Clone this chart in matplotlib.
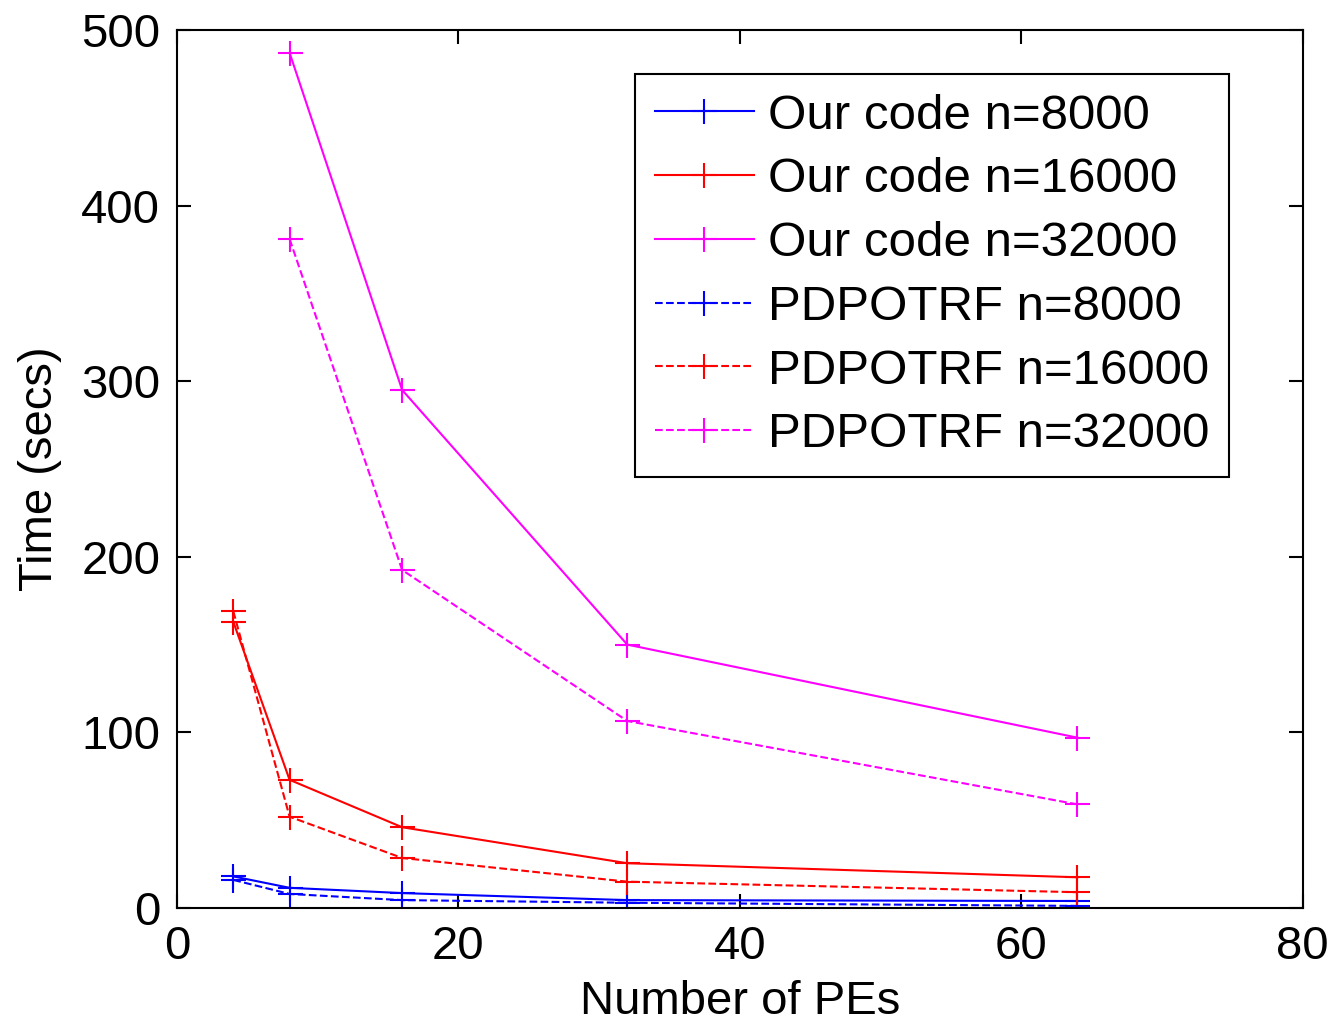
import matplotlib
matplotlib.use("Agg")
import matplotlib.pyplot as plt

plt.rcParams['font.family'] = ['Liberation Sans', 'DejaVu Sans']

pes = [4, 8, 16, 32, 64]
pes_32k = [8, 16, 32, 64]

ours_8000 = [18, 11.5, 8.5, 4.5, 4]
ours_16000 = [163, 73, 46, 25.5, 17.5]
ours_32000 = [487, 295, 150, 97]
pdpotrf_8000 = [16, 8, 4.5, 3, 1.2]
pdpotrf_16000 = [169, 52, 28.5, 15, 9]
pdpotrf_32000 = [381, 192.5, 106.5, 59]

fig = plt.figure(figsize=(13.36, 10.23), dpi=100)
ax = fig.add_axes([0.1325, 0.1124, 0.8425, 0.8583])

mk = dict(marker='+', markersize=18, markeredgewidth=1.5, linewidth=1.5)
ax.plot(pes, ours_8000, '-', color='blue', label='Our code n=8000', **mk)
ax.plot(pes, ours_16000, '-', color='red', label='Our code n=16000', **mk)
ax.plot(pes_32k, ours_32000, '-', color='magenta', label='Our code n=32000', **mk)
ax.plot(pes, pdpotrf_8000, '--', color='blue', label='PDPOTRF n=8000', **mk)
ax.plot(pes, pdpotrf_16000, '--', color='red', label='PDPOTRF n=16000', **mk)
ax.plot(pes_32k, pdpotrf_32000, '--', color='magenta', label='PDPOTRF n=32000', **mk)

ax.set_xlim(0, 80)
ax.set_ylim(0, 500)
ax.set_xticks([0, 20, 40, 60, 80])
ax.set_yticks([0, 100, 200, 300, 400, 500])
ax.tick_params(direction='in', length=10, width=1.5, labelsize=34, top=True, right=True, pad=12)
for s in ax.spines.values():
    s.set_linewidth(1.5)

ax.set_xlabel('Number of PEs', fontsize=34, labelpad=8)
ax.set_ylabel('Time (secs)', fontsize=34, labelpad=14)

leg = ax.legend(loc='upper right', bbox_to_anchor=(0.935, 0.95), fontsize=35.5, fancybox=False,
                framealpha=1, edgecolor='black', handlelength=2.0, borderpad=0.4,
                labelspacing=0.38, handletextpad=0.3, borderaxespad=0)
leg.get_frame().set_linewidth(1.5)

fig.savefig('out.png', dpi=100)
